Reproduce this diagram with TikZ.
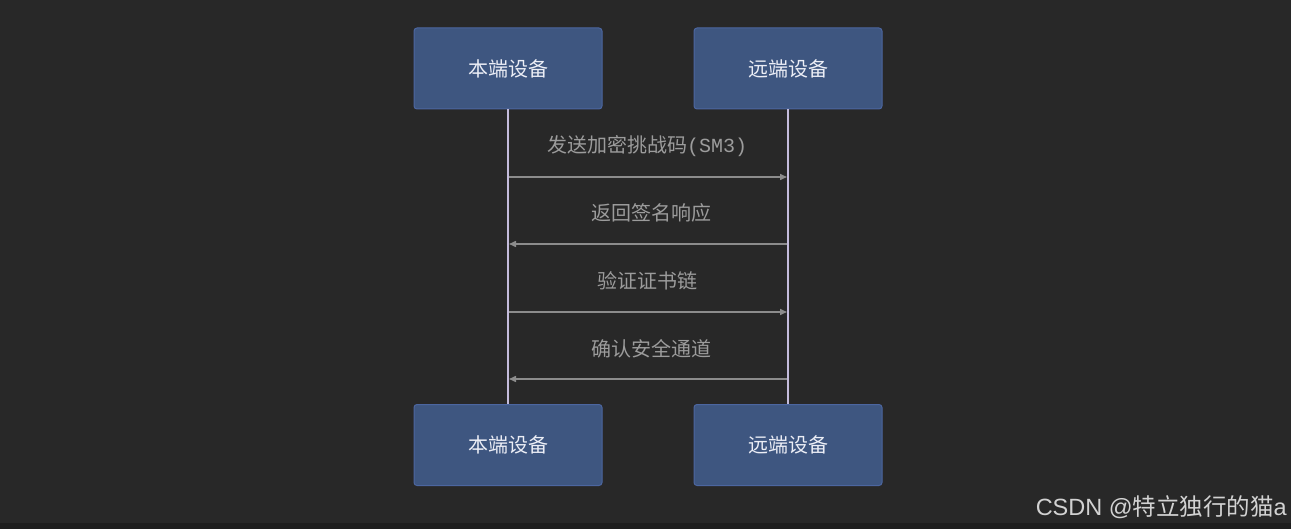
\documentclass[tikz,border=0pt]{standalone}
\usepackage{fontspec}
\setmainfont{Noto Sans CJK SC}
\setmonofont{Liberation Mono}
\newfontfamily\markfont{Liberation Sans}
\newfontfamily\markcjk{Noto Sans CJK SC}
\usepackage{xcolor}
\usetikzlibrary{arrows.meta, positioning}

\definecolor{bgdark}{HTML}{282828}
\definecolor{bgstrip}{HTML}{1E1E1E}
\definecolor{actorfill}{HTML}{3E5680}
\definecolor{actordraw}{HTML}{4C66A0}
\definecolor{actortext}{HTML}{ECEEF6}
\definecolor{lifecol}{HTML}{C4BCDC}
\definecolor{msgcol}{HTML}{8C8C8C}
\definecolor{msgtext}{HTML}{9C9C9C}
\definecolor{marktext}{HTML}{D2D2D2}

\begin{document}
\begin{tikzpicture}[
  x=1pt, y=-1pt,
  actor/.style={rectangle, draw=actordraw, fill=actorfill, rounded corners=3pt,
                line width=1pt, minimum width=188pt, minimum height=81pt,
                text=actortext, font=\fontsize{20}{23}\selectfont, inner sep=0pt},
  lifeline/.style={draw=lifecol, line width=2pt},
  msg/.style={draw=msgcol, line width=1.5pt, -{Triangle[length=7pt, width=6pt]}},
  msglabel/.style={text=msgtext, font=\fontsize{20}{23}\selectfont, inner sep=0pt}
]
% background and bottom strip
\fill[bgdark] (0,0) rectangle (1291,529);
\fill[bgstrip] (0,523) rectangle (1291,529);

% participants
\node[actor] (loc) at (508,68.5) {本端设备};
\node[actor] (rem) at (788,68.5) {远端设备};
\node[actor] (locb) at (508,445) {本端设备};
\node[actor] (remb) at (788,445) {远端设备};

% lifelines
\draw[lifeline] (loc.south) -- (locb.north);
\draw[lifeline] (rem.south) -- (remb.north);

% message ends on the lifelines
\coordinate (m1a) at (509,177);
\coordinate (m1b) at (787,177);
\coordinate (m2a) at (787,244);
\coordinate (m2b) at (509,244);
\coordinate (m3a) at (509,312);
\coordinate (m3b) at (787,312);
\coordinate (m4a) at (787,379);
\coordinate (m4b) at (509,379);

% messages
\draw[msg] (m1a) -- (m1b);
\node[msglabel] (t1) at (647,146) {发送加密挑战码\texttt{(SM3)}};
\draw[msg] (m2a) -- (m2b);
\node[msglabel] (t2) at (651,213) {返回签名响应};
\draw[msg] (m3a) -- (m3b);
\node[msglabel] (t3) at (647,281) {验证证书链};
\draw[msg] (m4a) -- (m4b);
\node[msglabel] (t4) at (651,349) {确认安全通道};

% watermark
\node[text=marktext, anchor=east, inner sep=0pt, font=\fontsize{23.5}{27}\selectfont]
  (mark) at (1287,507) {\markfont CSDN @\markcjk 特立独行的猫\markfont a};
\end{tikzpicture}
\end{document}
